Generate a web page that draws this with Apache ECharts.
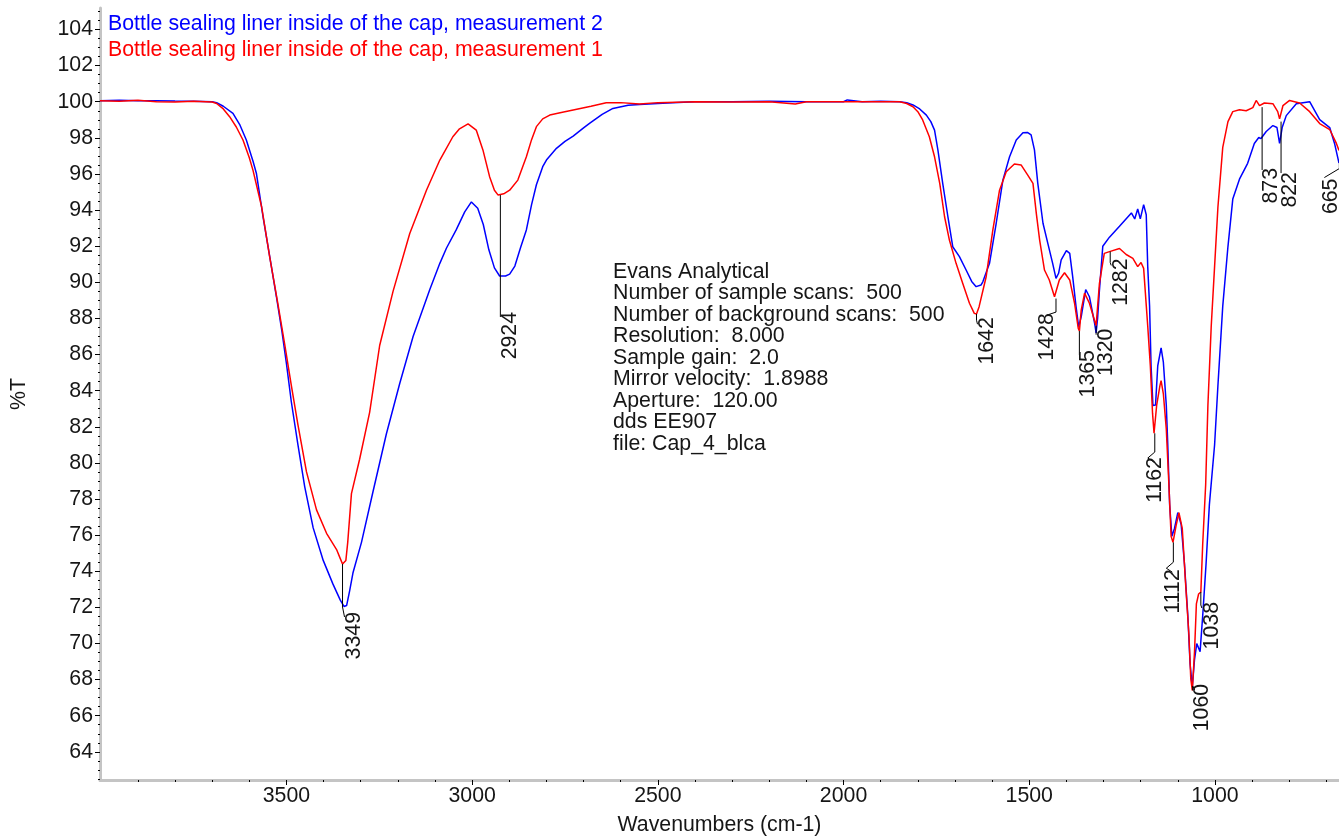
<!DOCTYPE html>
<html>
<head>
<meta charset="utf-8">
<script src="https://cdn.jsdelivr.net/npm/echarts@6/dist/echarts.min.js"></script>
<style>
html,body{margin:0;padding:0;background:#fff;}
#chart{width:1339px;height:836px;}
</style>
</head>
<body>
<div id="chart"></div>
<script>
// ---------- DATA ----------
const seriesNames = [
  'Bottle sealing liner inside of the cap, measurement 2',
  'Bottle sealing liner inside of the cap, measurement 1'
];

// measurement 2 (blue)
const m2Wavenumbers = [4002,3950,3900,3850,3800,3750,3700,3688,3670,3644,3625,3608,3590,3581,3563,3545,3527,3513,3500,3487,3469,3451,3428,3401,3375,3355,3345,3338,3330,3321,3298,3267,3231,3195,3159,3114,3087,3069,3043,3020,3002,2985,2970,2955,2940,2926,2910,2899,2885,2870,2854,2840,2827,2810,2800,2773,2750,2728,2700,2684,2650,2621,2580,2549,2500,2460,2400,2300,2200,2100,2000,1990,1950,1900,1849,1830,1813,1795,1777,1765,1755,1746,1733,1719,1706,1688,1670,1655,1643,1630,1625,1607,1589,1571,1553,1535,1517,1505,1495,1486,1477,1463,1450,1437,1428,1421,1414,1400,1391,1383,1374,1367,1360,1348,1338,1324,1320,1316,1311,1302,1284,1257,1225,1216,1208,1201,1192,1185,1181,1176,1172,1167,1160,1154,1145,1139,1131,1127,1122,1116,1109,1100,1091,1082,1073,1067,1061,1055,1049,1040,1033,1024,1015,1001,992,979,965,952,934,912,894,882,876,862,844,833,826,819,808,781,745,718,691,678,666];
const m2Transmittance = [100.05,100.08,100.05,100.06,100.04,100.03,100.0,99.95,99.75,99.36,98.7,97.88,96.7,96.04,93.63,91.42,89.2,87.4,85.5,83.4,81.0,78.7,76.4,74.6,73.3,72.4,72.05,72.1,72.9,73.9,75.6,78.4,81.6,84.4,87.0,89.6,91.05,91.9,92.9,93.9,94.45,94.1,93.2,91.8,90.8,90.35,90.35,90.45,90.9,91.9,92.9,94.3,95.4,96.4,96.77,97.42,97.8,98.1,98.55,98.8,99.3,99.63,99.8,99.85,99.9,99.95,100.0,100.0,100.02,100.0,100.0,100.1,100.0,100.02,100.0,99.95,99.82,99.6,99.26,98.9,98.43,97.33,95.48,93.63,91.97,91.42,90.68,90.05,89.76,89.85,90.03,91.05,93.27,95.66,96.95,97.88,98.28,98.3,98.16,97.33,95.48,93.27,92.16,91.05,90.22,90.5,91.24,91.75,91.6,90.3,88.65,87.54,88.1,89.6,89.2,87.73,87.2,88.0,89.57,92.0,92.5,93.1,93.84,93.51,94.06,93.51,94.3,93.74,90.87,88.68,85.38,83.18,83.2,85.38,86.37,85.6,83.18,80.99,77.69,75.93,76.37,77.25,76.59,74.39,71.53,68.89,67.6,69.11,69.99,69.55,71.53,74.39,77.69,80.99,84.29,88.68,91.98,94.61,95.71,96.59,97.69,98.02,97.96,98.35,98.68,98.57,97.69,98.57,99.23,99.89,100.0,99.01,98.57,97.69,96.6];

// measurement 1 (red)
const m1Wavenumbers = [4002,3950,3900,3850,3800,3750,3700,3688,3670,3653,3635,3617,3600,3590,3567,3545,3523,3505,3487,3469,3446,3419,3392,3365,3355,3349,3340,3335,3325,3303,3276,3249,3213,3168,3123,3087,3078,3052,3034,3011,2989,2971,2953,2940,2930,2915,2899,2877,2854,2840,2827,2810,2791,2760,2728,2680,2639,2600,2549,2500,2400,2300,2200,2130,2100,2000,1900,1849,1830,1813,1800,1787,1769,1755,1741,1728,1715,1697,1679,1661,1648,1642,1635,1616,1598,1580,1562,1540,1522,1504,1490,1481,1472,1459,1446,1432,1428,1419,1405,1391,1378,1368,1365,1360,1351,1338,1322,1320,1311,1298,1284,1257,1239,1221,1208,1199,1192,1181,1174,1168,1164,1157,1148,1145,1139,1131,1124,1118,1113,1104,1097,1088,1079,1070,1065,1061,1055,1050,1044,1038,1033,1025,1019,1010,1001,992,979,965,952,934,916,898,889,880,867,844,831,826,817,799,772,745,718,691,673,666];
const m1Transmittance = [100.05,100.03,100.08,100.0,99.98,100.02,99.98,99.9,99.6,99.17,98.6,97.88,96.9,96.2,94.2,91.4,88.8,86.6,84.3,82.1,79.5,77.4,76.1,75.2,74.7,74.4,74.6,75.6,78.3,80.2,82.8,86.5,89.5,92.7,95.1,96.77,97.1,98.06,98.5,98.77,98.43,97.33,95.85,95.1,94.83,94.9,95.1,95.66,96.95,97.9,98.62,99.05,99.26,99.4,99.54,99.75,99.94,99.95,99.87,99.95,100.0,99.98,100.0,99.88,100.0,100.0,100.0,100.0,99.9,99.72,99.45,98.99,98.06,96.95,95.48,93.63,92.34,91.05,89.94,88.84,88.28,88.25,88.65,90.31,92.9,95.1,96.12,96.55,96.5,95.94,95.48,93.82,92.34,90.68,90.13,89.2,89.1,90.13,90.53,90.13,88.84,87.45,87.3,88.47,89.4,88.84,87.73,87.6,89.94,91.6,91.7,91.87,91.54,91.32,90.87,91.1,90.77,87.58,85.38,82.74,81.64,83.18,84.29,84.55,83.84,81.87,78.79,75.93,75.6,76.59,77.25,76.37,73.3,70.44,68.02,67.4,69.55,72.19,72.74,72.85,75.49,78.79,83.18,87.58,90.87,94.17,97.47,98.9,99.45,99.56,99.5,99.67,100.07,99.78,99.93,99.89,99.45,99.05,99.78,100.07,99.93,99.45,98.79,98.46,97.69,97.3];

// peak annotations
const peakLabels = ['3349','2924','1642','1428','1365','1320','1282','1162','1112','1060','1038','873','822','665'];
const peakWavenumbers = [3349,2924,1642,1428,1365,1320,1282,1162,1112,1060,1038,873,822,665];
const peakLineTop = [74.4,94.83,88.25,89.1,87.3,87.6,91.7,81.64,75.6,67.4,72.85,99.7,98.9,96.8];
const peakLineEnd = [72.02,88.08,87.9,88.35,85.97,87.1,91.1,80.6,74.5,67.65,72.13,96.22,96.05,96.3];

// axis ticks / labels
const xTickLabels = [3500,3000,2500,2000,1500,1000];
const yTickLabels = [64,66,68,70,72,74,76,78,80,82,84,86,88,90,92,94,96,98,100,102,104];

const infoLines = [
  'Evans Analytical',
  'Number of sample scans:  500',
  'Number of background scans:  500',
  'Resolution:  8.000',
  'Sample gain:  2.0',
  'Mirror velocity:  1.8988',
  'Aperture:  120.00',
  'dds EE907',
  'file: Cap_4_blca'
];

// ---------- LAYOUT / STYLE ----------
const FONT = '"Liberation Sans", Arial, Helvetica, sans-serif';
const FS = 21.3;
const TXT = '#161616';
const AXIS_GRAY = '#c4c4c4';

// per label leader/text layout in pixels relative to line end
const peakLayout = [
  {hook:[[2,10]], dx:12, dy:5},
  {hook:[], dx:10, dy:-5},
  {hook:[[1,4]], dx:11, dy:-3},
  {hook:[[-9,3]], dx:-9, dy:1},
  {hook:[], dx:9, dy:-5},
  {hook:[], dx:10, dy:-6},
  {hook:[[1,3]], dx:11, dy:-4},
  {hook:[[-7,6],[-1,10]], dx:0, dy:5},
  {hook:[[-7,6],[-1,10]], dx:0, dy:7},
  {hook:[[2,4]], dx:9, dy:-2},
  {hook:[[1,3]], dx:11, dy:-3},
  {hook:[], dx:9, dy:-2},
  {hook:[], dx:9, dy:-1},
  {hook:[[-15,9]], dx:-8, dy:10}
];

const xMinor = [];
for (let v = 700; v <= 4000; v += 100) if (v % 500 !== 0) xMinor.push(v);
const yMinor = [];
for (let v = 62.5; v <= 105; v += 0.5) if (v % 2 !== 0) yMinor.push(v);

const X_MIN = 666, X_MAX = 4002, Y_MIN = 62.44, Y_MAX = 105.19;

function zip(a, b) { return a.map((v, i) => [v, b[i]]); }

function renderPeak(params, api) {
  const i = api.value(3);
  const L = peakLayout[i];
  const p0 = api.coord([api.value(0), api.value(1)]);
  const p1 = api.coord([api.value(0), api.value(2)]);
  const pts = [p0, p1];
  L.hook.forEach(h => pts.push([p1[0] + h[0], p1[1] + h[1]]));
  return {
    type: 'group',
    children: [
      {type: 'polyline', shape: {points: pts}, style: {stroke: '#000', lineWidth: 1, fill: null}},
      {type: 'text', x: p1[0] + L.dx, y: p1[1] + L.dy, rotation: Math.PI / 2,
        style: {text: peakLabels[i], fontSize: FS, fontFamily: FONT, fill: TXT, align: 'right', verticalAlign: 'middle'}}
    ]
  };
}

const chart = echarts.init(document.getElementById('chart'), null, {renderer: 'canvas'});
const option = {
  animation: false,
  backgroundColor: '#fff',
  grid: {left: 100, right: 0, top: 8, bottom: 56, containLabel: false, outerBoundsMode: 'none'},
  legend: {
    orient: 'vertical', left: 97, top: 9, itemGap: 5, itemWidth: 0, itemHeight: 0,
    selectedMode: false,
    textStyle: {fontSize: FS, fontFamily: FONT},
    data: [
      {name: seriesNames[0], textStyle: {color: '#0000ff'}},
      {name: seriesNames[1], textStyle: {color: '#ff0000'}}
    ]
  },
  xAxis: [
    {
      type: 'value', inverse: true, min: X_MIN, max: X_MAX,
      name: 'Wavenumbers (cm-1)', nameLocation: 'middle', nameGap: 35,
      nameTextStyle: {fontSize: FS, fontFamily: FONT, color: TXT},
      axisLine: {show: true, lineStyle: {color: AXIS_GRAY, width: 3}},
      axisTick: {show: true, customValues: xTickLabels, length: 5, lineStyle: {color: '#000', width: 1}},
      axisLabel: {show: true, customValues: xTickLabels, margin: 6, fontSize: FS, fontFamily: FONT, color: TXT,
        formatter: v => String(v)},
      splitLine: {show: false}
    },
    {
      type: 'value', inverse: true, min: X_MIN, max: X_MAX, position: 'bottom', gridIndex: 0,
      axisLine: {show: false},
      axisTick: {show: true, customValues: xMinor, length: 2, lineStyle: {color: '#000', width: 1}},
      axisLabel: {show: false}, splitLine: {show: false}
    }
  ],
  yAxis: [
    {
      type: 'value', min: Y_MIN, max: Y_MAX,
      name: '%T', nameLocation: 'middle', nameGap: 70, nameRotate: 90,
      nameTextStyle: {fontSize: FS, fontFamily: FONT, color: TXT},
      axisLine: {show: true, lineStyle: {color: AXIS_GRAY, width: 3}},
      axisTick: {show: true, customValues: yTickLabels, length: 5, lineStyle: {color: '#000', width: 1}},
      axisLabel: {show: true, customValues: yTickLabels, margin: 7, fontSize: FS, fontFamily: FONT, color: TXT,
        formatter: v => String(v)},
      splitLine: {show: false}
    },
    {
      type: 'value', min: Y_MIN, max: Y_MAX, position: 'left', offset: 0, gridIndex: 0,
      axisLine: {show: false},
      axisTick: {show: true, customValues: yMinor, length: 2, lineStyle: {color: '#000', width: 1}},
      axisLabel: {show: false}, splitLine: {show: false}
    }
  ],
  graphic: [
    {type: 'text', left: 613, top: 261,
      style: {text: infoLines.join('\n'), fontSize: FS, fontFamily: FONT, fill: TXT, lineHeight: 21.5}}
  ],
  series: [
    {name: seriesNames[0], type: 'line', data: zip(m2Wavenumbers, m2Transmittance), showSymbol: false,
      lineStyle: {color: '#0000ff', width: 1.5}, itemStyle: {color: '#0000ff'}, z: 2},
    {name: seriesNames[1], type: 'line', data: zip(m1Wavenumbers, m1Transmittance), showSymbol: false,
      lineStyle: {color: '#ff0000', width: 1.5}, itemStyle: {color: '#ff0000'}, z: 3},
    {name: 'peaks', type: 'custom', renderItem: renderPeak, clip: false, z: 4,
      data: peakWavenumbers.map((w, i) => [w, peakLineTop[i], peakLineEnd[i], i]),
      encode: {x: 0, y: [1, 2]}, silent: true}
  ]
};
chart.setOption(option);
</script>
</body>
</html>
